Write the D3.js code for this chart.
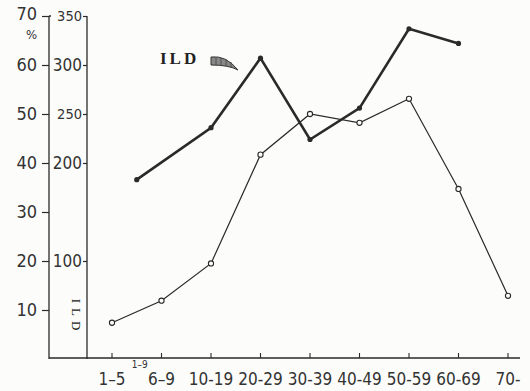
<!DOCTYPE html>
<html>
<head>
<meta charset="utf-8">
<script src="https://cdn.jsdelivr.net/npm/d3@7"></script>
<style>
  html, body { margin: 0; padding: 0; background: #fcfcfa; }
  svg { display: block; }
  .num { font-family: "DejaVu Sans Condensed", "DejaVu Sans", sans-serif; fill: #333; }
  .cat { font-family: "Liberation Sans Narrow", "DejaVu Sans Condensed", sans-serif; fill: #333; }
  .serif { font-family: "Liberation Serif", "DejaVu Serif", serif; fill: #222; }
</style>
</head>
<body>
<svg id="chart" width="530" height="391"></svg>
<script>
// age groups along the bottom axis
const ageGroups = ["1\u20135", "6\u20139", "10-19", "20-29", "30-39", "40-49", "50-59", "60-69", "70-"];
// thin line: percentage per age group
const percentValues = [7.4, 11.9, 19.5, 41.7, 50.0, 48.2, 53.1, 34.7, 12.9];

// thick line: ILD counts, first group "1-9" sits between 1-5 and 6-9
const ildGroups = ["1\u20139", "10-19", "20-29", "30-39", "40-49", "50-59", "60-69"];
const ildGroupIndex = [0.5, 2, 3, 4, 5, 6, 7];
const ildCounts = [183, 236, 307, 224, 256, 337, 322];

const percentTicks = [10, 20, 30, 40, 50, 60, 70];
const countTicks = [100, 200, 250, 300, 350];
const bigCountTicks = [100, 200, 300];

const svg = d3.select("#chart");
const ink = "#2a2a2a";

const yPct = d3.scaleLinear().domain([0, 70]).range([359, 16]);
const yCnt = d3.scaleLinear().domain([0, 350]).range([359, 16]);
const xAge = d3.scaleLinear().domain([0, ageGroups.length - 1]).range([112, 508]);

// percent axis
const axPct = svg.append("g")
    .attr("transform", "translate(49,0)")
    .call(d3.axisLeft(yPct).tickValues(percentTicks).tickSize(7).tickSizeOuter(0).tickPadding(5));
axPct.select(".domain").attr("d", `M0,${yPct(70)}H2M0,${yPct(70)}V${yPct(0)}`).attr("stroke", ink).attr("stroke-width", 1.3);
axPct.selectAll(".tick line").attr("stroke", ink).attr("stroke-width", 1.2);
axPct.selectAll(".tick text").attr("class", "num").attr("font-size", 18).attr("fill", "#333")
    .attr("dy", d => d === 70 ? "0.2em" : "0.32em");
svg.append("text").attr("class", "num").attr("x", 26).attr("y", 39).attr("font-size", 13).text("%");

// count axis
const axCnt = svg.append("g")
    .attr("transform", "translate(87,0)")
    .call(d3.axisLeft(yCnt).tickValues(countTicks).tickSize(4).tickSizeOuter(0).tickPadding(1));
axCnt.select(".domain").attr("d", `M0,${yCnt(350)}V${yCnt(0)}`).attr("stroke", ink).attr("stroke-width", 1.3);
axCnt.selectAll(".tick line").attr("stroke", ink).attr("stroke-width", 1.2);
axCnt.selectAll(".tick text").attr("class", "num")
    .attr("font-size", d => bigCountTicks.includes(d) ? 17 : 14.5)
    .attr("fill", "#333");

svg.append("text").attr("class", "serif")
    .attr("transform", `translate(72,317) rotate(90)`)
    .attr("text-anchor", "middle")
    .attr("font-size", 13)
    .attr("letter-spacing", 5)
    .text("ILD");

// age axis
const axAge = svg.append("g").attr("transform", "translate(0,358)");
axAge.append("path")
    .attr("d", `M49,0H520`)
    .attr("stroke", ink).attr("stroke-width", 1.3);
axAge.selectAll("line.tick")
    .data(ageGroups)
    .join("line")
    .attr("x1", (d, i) => xAge(i)).attr("x2", (d, i) => xAge(i))
    .attr("y1", 0).attr("y2", -5)
    .attr("stroke", ink).attr("stroke-width", 1.1);
axAge.selectAll("text.cat")
    .data(ageGroups)
    .join("text")
    .attr("class", "cat")
    .attr("x", (d, i) => xAge(i))
    .attr("y", 27)
    .attr("text-anchor", "middle")
    .attr("font-size", 17)
    .text(d => d);
axAge.append("text")
    .attr("class", "cat")
    .attr("x", xAge(ildGroupIndex[0]) + 3)
    .attr("y", 10)
    .attr("text-anchor", "middle")
    .attr("font-size", 10)
    .text(ildGroups[0]);

// thin percent line
const thinLine = d3.line()
    .x((d, i) => xAge(i))
    .y(d => yPct(d));
svg.append("path")
    .attr("d", thinLine(percentValues))
    .attr("fill", "none").attr("stroke", ink).attr("stroke-width", 1.2);
svg.selectAll("circle.pct")
    .data(percentValues)
    .join("circle")
    .attr("class", "pct")
    .attr("cx", (d, i) => xAge(i))
    .attr("cy", d => yPct(d))
    .attr("r", 2.6)
    .attr("fill", "#fcfcfa").attr("stroke", ink).attr("stroke-width", 1.1);

// thick ILD line
const thickLine = d3.line()
    .x((d, i) => xAge(ildGroupIndex[i]))
    .y(d => yCnt(d));
svg.append("path")
    .attr("d", thickLine(ildCounts))
    .attr("fill", "none").attr("stroke", ink).attr("stroke-width", 2.6)
    .attr("stroke-linejoin", "miter");
svg.selectAll("circle.ild")
    .data(ildCounts)
    .join("circle")
    .attr("class", "ild")
    .attr("cx", (d, i) => xAge(ildGroupIndex[i]))
    .attr("cy", d => yCnt(d))
    .attr("r", 2.6)
    .attr("fill", ink);

// ILD label with hatched arrow
svg.append("text").attr("class", "serif")
    .attr("x", 160).attr("y", 64)
    .attr("font-size", 17)
    .attr("font-weight", "bold")
    .attr("letter-spacing", 3)
    .text("ILD");
svg.append("path")
    .attr("d", "M211,57 Q226,55 238,70 Q229,65 211,65 Z")
    .attr("fill", "#888").attr("stroke", "#333").attr("stroke-width", 1);
svg.append("path")
    .attr("d", "M216,58V65M221,58V65M226,59V66M231,62V67")
    .attr("stroke", "#444").attr("stroke-width", 0.8);
</script>
</body>
</html>
